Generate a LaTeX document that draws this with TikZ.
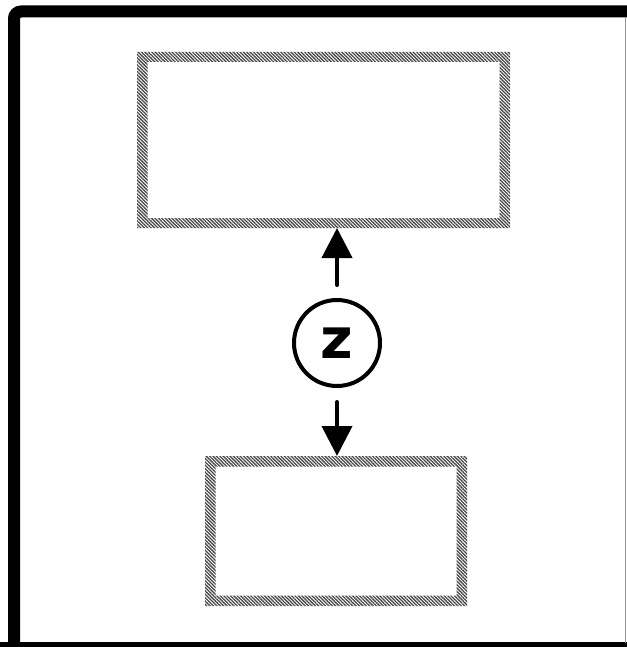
\documentclass[tikz,border=0pt]{standalone}
\usepackage{fontspec}
\newfontfamily\zfont{DejaVu Sans}[BoldFont={DejaVu Sans Bold}]
\usetikzlibrary{patterns.meta,arrows.meta}
\tikzset{
  frame/.style={line width=12pt, rounded corners=7pt},
  slot/.style={rectangle, inner sep=0pt, outer sep=0pt},
  hatchband/.style={even odd rule, pattern={Lines[angle=-45, distance=2.4pt, line width=1.3pt]}, pattern color=black!72},
  latent/.style={circle, draw, line width=4pt, minimum size=86pt, inner sep=0pt},
  zlabel/.style={font=\fontsize{56}{56}\zfont\bfseries\selectfont},
  link/.style={line width=4pt, line cap=round, -{Triangle[length=30pt,width=30pt]}},
}
\begin{document}
\begin{tikzpicture}[x=1pt,y=-1pt]
  \useasboundingbox (0,0) rectangle (626,647);
  \fill[white] (0,0) rectangle (626,647);
  % outer frame, running off the page on the right and bottom
  \draw[frame] (14,660) -- (14,11.5) -- (640,11.5);
  \draw[line width=12pt] (0,648) -- (640,648);
  \draw[black!40, line width=1pt] (625.5,17) -- (625.5,643);

  % the two boxes
  \node[slot, minimum width=373pt, minimum height=176pt] (top) at (323.5,140) {};
  \node[slot, minimum width=262pt, minimum height=150pt] (bot) at (336,531) {};
  \fill[hatchband] (top.north west) rectangle (top.south east)
                   ([shift={(10.5,10)}]top.north west) rectangle ([shift={(-10.5,-10)}]top.south east);
  \fill[hatchband] (bot.north west) rectangle (bot.south east)
                   ([shift={(10.5,10.5)}]bot.north west) rectangle ([shift={(-10.5,-10.5)}]bot.south east);

  % latent variable and its arrows
  \node[latent] (z) at (337,343) {};
  \node[zlabel, inner sep=0pt] (zt) at (z.center) {z};
  \draw[link, shorten <=13pt] (z.north) -- (z.north |- top.south);
  \draw[link, shorten <=14pt] (z.south) -- (z.south |- bot.north);
\end{tikzpicture}
\end{document}
